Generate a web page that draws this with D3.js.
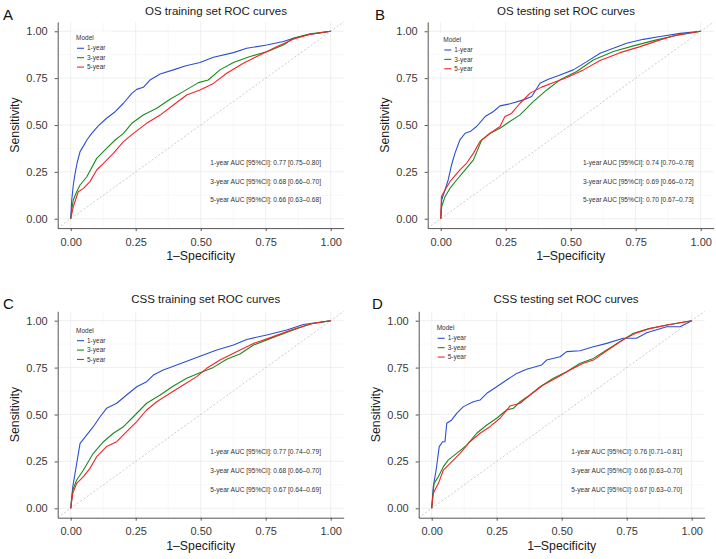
<!DOCTYPE html>
<html lang="en">
<head>
<meta charset="UTF-8" />
<title>ROC curves</title>
<script src="https://cdn.jsdelivr.net/npm/d3@7"></script>
<style>
  body { margin: 0; background: #fff; }
  svg { font-family: "Liberation Sans", Arial, sans-serif; }
  .grid-major { stroke: #ebebeb; stroke-width: 0.8; }
  .grid-minor { stroke: #f4f4f4; stroke-width: 0.6; }
  .axis path, .axis line { stroke: #555; stroke-width: 1; }
  .axis text { fill: #3a3a3a; font-size: 11px; }
  .diag { stroke: #b5b5b5; stroke-width: 0.7; stroke-dasharray: 2,2; }
  .roc { fill: none; stroke-width: 1.1; stroke-linejoin: round; }
</style>
</head>
<body>
<svg id="chart" width="716" height="559"></svg>
<script>
// ---- data ----
const models = ["1-year", "3-year", "5-year"];
const modelColors = ["#2b4fd3", "#1e8a1e", "#f2242a"];
const tickValues = [0, 0.25, 0.5, 0.75, 1];
const minorValues = [0.125, 0.375, 0.625, 0.875];
const panelLetters = ["A", "B", "C", "D"];
const panelTitles = ["OS training set ROC curves", "OS testing set ROC curves",
                     "CSS training set ROC curves", "CSS testing set ROC curves"];

// [1-Specificity, Sensitivity]
const osTrain1 = [[0,0],[0.004,0.1],[0.01,0.18],[0.017,0.242],[0.025,0.3],[0.036,0.358],[0.05,0.39],[0.062,0.42],[0.081,0.455],[0.106,0.495],[0.138,0.536],[0.171,0.571],[0.203,0.616],[0.235,0.669],[0.254,0.69],[0.279,0.701],[0.305,0.74],[0.344,0.772],[0.395,0.794],[0.44,0.815],[0.497,0.833],[0.549,0.861],[0.626,0.886],[0.677,0.909],[0.754,0.927],[0.818,0.945],[0.856,0.963],[0.908,0.98],[1,1]];
const osTrain3 = [[0,0],[0.004,0.05],[0.01,0.1],[0.023,0.144],[0.036,0.18],[0.062,0.224],[0.1,0.322],[0.138,0.375],[0.171,0.42],[0.203,0.455],[0.235,0.509],[0.279,0.553],[0.331,0.589],[0.382,0.637],[0.433,0.678],[0.491,0.726],[0.529,0.74],[0.574,0.794],[0.626,0.833],[0.69,0.865],[0.754,0.891],[0.818,0.927],[0.856,0.963],[0.921,0.986],[1,1]];
const osTrain5 = [[0,0],[0.01,0.064],[0.029,0.144],[0.049,0.162],[0.074,0.198],[0.1,0.26],[0.126,0.295],[0.164,0.349],[0.203,0.411],[0.241,0.455],[0.292,0.509],[0.344,0.553],[0.395,0.607],[0.446,0.66],[0.497,0.687],[0.549,0.722],[0.6,0.776],[0.664,0.829],[0.728,0.874],[0.792,0.918],[0.856,0.957],[0.921,0.984],[1,1]];

const osTest1 = [[0,0],[0.004,0.101],[0.017,0.155],[0.029,0.208],[0.042,0.288],[0.055,0.35],[0.074,0.421],[0.094,0.456],[0.113,0.465],[0.138,0.492],[0.171,0.545],[0.203,0.572],[0.228,0.602],[0.267,0.613],[0.318,0.634],[0.35,0.652],[0.382,0.723],[0.414,0.744],[0.459,0.767],[0.51,0.794],[0.562,0.838],[0.613,0.883],[0.664,0.909],[0.715,0.936],[0.779,0.957],[0.844,0.972],[0.921,0.989],[1,1]];
const osTest3 = [[0,0],[0.004,0.066],[0.017,0.119],[0.036,0.163],[0.062,0.208],[0.094,0.261],[0.126,0.314],[0.158,0.421],[0.19,0.456],[0.228,0.483],[0.26,0.513],[0.305,0.554],[0.356,0.625],[0.408,0.687],[0.459,0.741],[0.523,0.785],[0.587,0.847],[0.664,0.892],[0.741,0.922],[0.818,0.95],[0.895,0.975],[1,1]];
const osTest5 = [[0,0],[0.003,0.119],[0.017,0.155],[0.036,0.199],[0.074,0.261],[0.1,0.297],[0.126,0.35],[0.151,0.412],[0.19,0.456],[0.228,0.492],[0.247,0.545],[0.273,0.563],[0.305,0.616],[0.344,0.67],[0.388,0.702],[0.427,0.723],[0.485,0.753],[0.549,0.794],[0.613,0.844],[0.69,0.886],[0.767,0.918],[0.844,0.954],[0.908,0.98],[1,1]];

const cssTrain1 = [[0,0],[0.008,0.115],[0.021,0.222],[0.036,0.346],[0.062,0.391],[0.087,0.435],[0.113,0.488],[0.138,0.533],[0.177,0.56],[0.215,0.604],[0.254,0.648],[0.292,0.675],[0.318,0.71],[0.356,0.737],[0.408,0.764],[0.459,0.79],[0.51,0.817],[0.562,0.844],[0.626,0.87],[0.677,0.9],[0.754,0.924],[0.831,0.95],[0.895,0.98],[1,1]];
const cssTrain3 = [[0,0],[0.008,0.098],[0.023,0.151],[0.049,0.204],[0.087,0.293],[0.126,0.355],[0.164,0.4],[0.203,0.435],[0.241,0.488],[0.292,0.56],[0.344,0.604],[0.395,0.652],[0.446,0.693],[0.497,0.723],[0.549,0.751],[0.6,0.794],[0.651,0.822],[0.703,0.87],[0.779,0.911],[0.856,0.95],[0.921,0.982],[1,1]];
const cssTrain5 = [[0,0],[0.008,0.08],[0.023,0.133],[0.049,0.169],[0.074,0.213],[0.1,0.275],[0.138,0.329],[0.177,0.355],[0.215,0.409],[0.254,0.462],[0.292,0.524],[0.331,0.568],[0.382,0.613],[0.433,0.657],[0.485,0.702],[0.523,0.746],[0.574,0.79],[0.638,0.835],[0.703,0.879],[0.779,0.915],[0.856,0.954],[0.933,0.986],[1,1]];

const cssTest1 = [[0,0],[0.006,0.115],[0.017,0.204],[0.029,0.329],[0.042,0.355],[0.051,0.355],[0.058,0.453],[0.077,0.471],[0.096,0.506],[0.122,0.542],[0.16,0.568],[0.186,0.577],[0.212,0.613],[0.25,0.648],[0.288,0.684],[0.327,0.719],[0.365,0.741],[0.423,0.764],[0.442,0.79],[0.494,0.808],[0.519,0.835],[0.571,0.84],[0.622,0.861],[0.673,0.879],[0.737,0.906],[0.788,0.906],[0.827,0.936],[0.904,0.968],[0.955,0.968],[1,1]];
const cssTest3 = [[0,0],[0.009,0.133],[0.026,0.169],[0.045,0.222],[0.064,0.258],[0.096,0.293],[0.135,0.337],[0.173,0.4],[0.212,0.444],[0.25,0.48],[0.288,0.524],[0.314,0.533],[0.34,0.568],[0.378,0.604],[0.417,0.648],[0.468,0.693],[0.519,0.728],[0.571,0.773],[0.622,0.799],[0.673,0.844],[0.724,0.888],[0.776,0.933],[0.827,0.954],[0.904,0.977],[1,1]];
const cssTest5 = [[0,0],[0.006,0.08],[0.026,0.133],[0.045,0.204],[0.071,0.24],[0.109,0.293],[0.147,0.355],[0.186,0.4],[0.224,0.435],[0.263,0.48],[0.301,0.545],[0.34,0.56],[0.378,0.604],[0.429,0.657],[0.481,0.696],[0.532,0.737],[0.583,0.773],[0.622,0.79],[0.673,0.84],[0.737,0.9],[0.788,0.935],[0.84,0.959],[0.917,0.98],[1,1]];

const aucLabels = [
  ["1-year AUC [95%CI]: 0.77 [0.75\u20130.80]", "3-year AUC [95%CI]: 0.68 [0.66\u20130.70]", "5-year AUC [95%CI]: 0.66 [0.63\u20130.68]"],
  ["1-year AUC [95%CI]: 0.74 [0.70\u20130.78]", "3-year AUC [95%CI]: 0.69 [0.66\u20130.72]", "5-year AUC [95%CI]: 0.70 [0.67\u20130.73]"],
  ["1-year AUC [95%CI]: 0.77 [0.74\u20130.79]", "3-year AUC [95%CI]: 0.68 [0.66\u20130.70]", "5-year AUC [95%CI]: 0.67 [0.64\u20130.69]"],
  ["1-year AUC [95%CI]: 0.76 [0.71\u20130.81]", "3-year AUC [95%CI]: 0.66 [0.63\u20130.70]", "5-year AUC [95%CI]: 0.67 [0.63\u20130.70]"]
];
const aucY = [0.3, 0.2, 0.1];
const aucX = [0.75, 0.76, 0.75, 0.75];

const curves = [
  [osTrain1, osTrain3, osTrain5],
  [osTest1, osTest3, osTest5],
  [cssTrain1, cssTrain3, cssTrain5],
  [cssTest1, cssTest3, cssTest5]
];

// ---- layout (pixel boxes of each plotting area, domain -0.05..1.05) ----
const boxes = [
  { left: 57.7, right: 343.7, top: 21.9, bottom: 228.1, titleX: 216, titleY: 14.5, letterX: 3, letterY: 20, legend: [5.3, 7] },
  { left: 427.7, right: 713.7, top: 21.9, bottom: 228.1, titleX: 566, titleY: 14.5, letterX: 375, letterY: 20, legend: [2.6, 8.7] },
  { left: 57.7, right: 343.7, top: 311.3, bottom: 517.7, titleX: 205.7, titleY: 303, letterX: 3, letterY: 308.5, legend: [5.3, 10] },
  { left: 418.7, right: 704.7, top: 311.3, bottom: 517.7, titleX: 566, titleY: 303, letterX: 372, letterY: 308.5, legend: [5, 7.6] }
];

const svg = d3.select("#chart");
const fmt = d3.format(".2f");

boxes.forEach((b, p) => {
  const x = d3.scaleLinear().domain([-0.05, 1.05]).range([b.left, b.right]);
  const y = d3.scaleLinear().domain([-0.05, 1.05]).range([b.bottom, b.top]);
  const g = svg.append("g");

  // grid
  g.selectAll(".gvm").data(minorValues).join("line").attr("class", "grid-minor")
    .attr("x1", d => x(d)).attr("x2", d => x(d)).attr("y1", b.top).attr("y2", b.bottom);
  g.selectAll(".ghm").data(minorValues).join("line").attr("class", "grid-minor")
    .attr("y1", d => y(d)).attr("y2", d => y(d)).attr("x1", b.left).attr("x2", b.right);
  g.selectAll(".gv").data(tickValues).join("line").attr("class", "grid-major")
    .attr("x1", d => x(d)).attr("x2", d => x(d)).attr("y1", b.top).attr("y2", b.bottom);
  g.selectAll(".gh").data(tickValues).join("line").attr("class", "grid-major")
    .attr("y1", d => y(d)).attr("y2", d => y(d)).attr("x1", b.left).attr("x2", b.right);

  // reference diagonal
  g.append("line").attr("class", "diag")
    .attr("x1", x(-0.05)).attr("y1", y(-0.05)).attr("x2", x(1.05)).attr("y2", y(1.05));

  // legend background
  const lx = x(0) + b.legend[0], ly = y(1) + b.legend[1];
  g.append("rect").attr("x", lx - 5).attr("y", ly - 7).attr("width", 40).attr("height", 39).attr("fill", "#fff");

  // curves
  const line = d3.line().x(d => x(d[0])).y(d => y(d[1]));
  curves[p].forEach((c, i) => {
    g.append("path").datum(c).attr("class", "roc").attr("stroke", modelColors[i]).attr("d", line);
  });

  // axes
  g.append("g").attr("class", "axis").attr("transform", `translate(0,${b.bottom})`)
    .call(d3.axisBottom(x).tickValues(tickValues).tickFormat(fmt).tickSize(3).tickSizeOuter(0).tickPadding(7));
  g.append("g").attr("class", "axis").attr("transform", `translate(${b.left},0)`)
    .call(d3.axisLeft(y).tickValues(tickValues).tickFormat(fmt).tickSize(3).tickSizeOuter(0).tickPadding(7));

  // axis titles
  g.append("text").attr("x", (b.left + b.right) / 2).attr("y", b.bottom + 32)
    .attr("text-anchor", "middle").attr("font-size", 12.3).attr("fill", "#1a1a1a").text("1\u2013Specificity");
  g.append("text").attr("transform", `translate(${b.left - 39},${(b.top + b.bottom) / 2}) rotate(-90)`)
    .attr("text-anchor", "middle").attr("font-size", 12.3).attr("fill", "#1a1a1a").text("Sensitivity");

  // title and panel letter
  g.append("text").attr("x", b.titleX).attr("y", b.titleY).attr("text-anchor", "middle")
    .attr("font-size", 11.5).attr("fill", "#1a1a1a").text(panelTitles[p]);
  g.append("text").attr("x", b.letterX).attr("y", b.letterY)
    .attr("font-size", 15).attr("fill", "#111").text(panelLetters[p]);

  // legend
  g.append("text").attr("x", lx).attr("y", ly + 2.2).attr("font-size", 6.5).attr("fill", "#333").text("Model");
  models.forEach((m, i) => {
    const yy = ly + 10 + i * 9.4;
    g.append("line").attr("x1", lx + 1).attr("x2", lx + 8).attr("y1", yy).attr("y2", yy)
      .attr("stroke", modelColors[i]).attr("stroke-width", 1.1);
    g.append("text").attr("x", lx + 11).attr("y", yy + 2.2).attr("font-size", 6.5).attr("fill", "#333").text(m);
  });

  // AUC annotations
  aucLabels[p].forEach((t, i) => {
    g.append("text").attr("x", x(aucX[p])).attr("y", y(aucY[i])).attr("dy", "0.35em")
      .attr("text-anchor", "middle").attr("font-size", 6.6).attr("fill", "#333").text(t);
  });
});
</script>
</body>
</html>
